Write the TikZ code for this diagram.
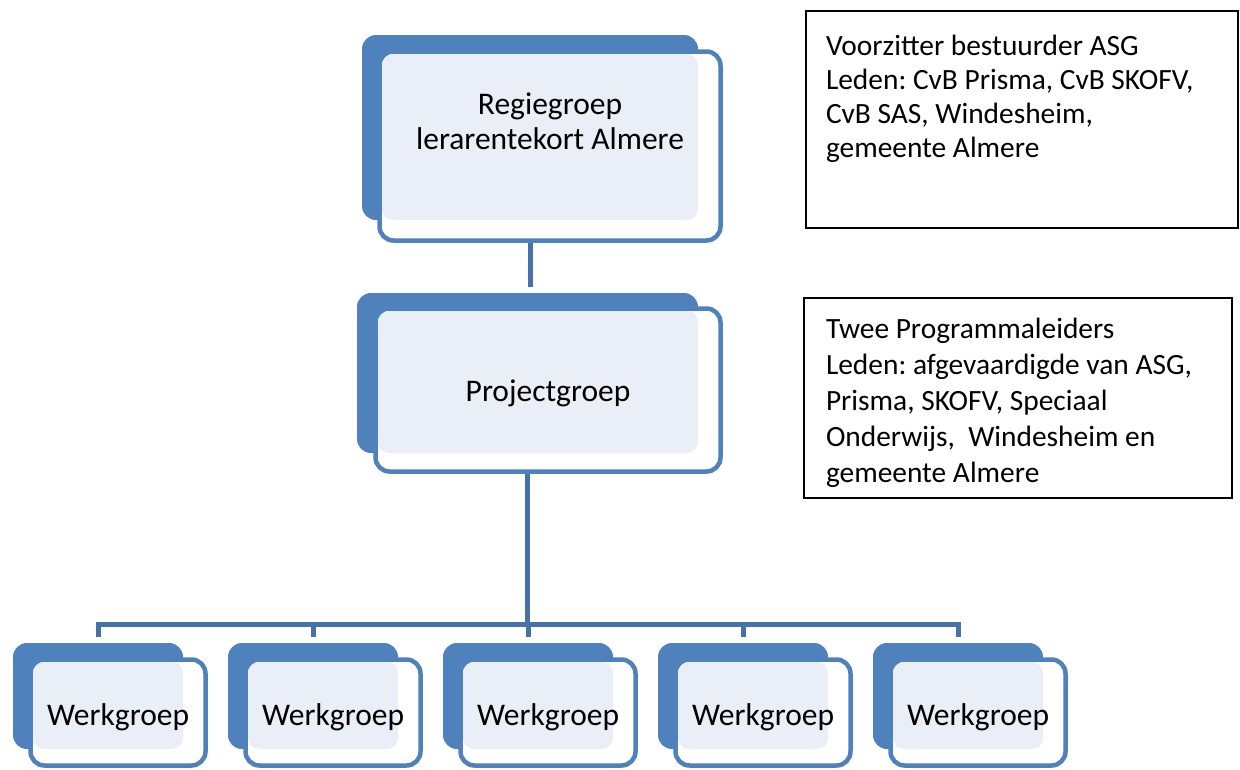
\documentclass[tikz,border=0pt]{standalone}
\usepackage{fontspec}
\setmainfont{Carlito}
\frenchspacing
\definecolor{dblue}{HTML}{4F81BD}
\definecolor{lblue}{HTML}{EAEFF7}
\definecolor{cblue}{HTML}{4672A8}
\begin{document}
\begin{tikzpicture}[x=1pt,y=-1pt,
  every node/.style={inner sep=0pt, outer sep=0pt},
  backbox/.style={fill=dblue, rounded corners=14pt, rectangle},
  frontbox/.style={draw=dblue, line width=4.5pt, fill=white, rounded corners=14pt, rectangle},
  lightbox/.style={fill=lblue, rounded corners=11pt, rectangle},
  conn/.style={draw=cblue, line width=5pt},
  lbl/.style={font=\fontsize{31.5}{35}\selectfont\frenchspacing, text=black},
  infotext/.style={text=black, align=left, anchor=base west},
  infobox/.style={draw=black, line width=1.5pt, rectangle}]
\useasboundingbox (0,0) rectangle (1240,769);
\fill[white] (0,0) rectangle (1240,769);

% back boxes (needed for connector anchors)
\node[backbox, minimum width=336pt, minimum height=185pt] (Rb) at (530,127.5) {};
\node[backbox, minimum width=341pt, minimum height=160pt] (Pb) at (527.5,373) {};
\foreach \k in {1,...,5}{
  \node[backbox, minimum width=170pt, minimum height=106pt] (W\k b) at ({98+215*(\k-1)},696) {};
}
\coordinate (bar) at (0,624);

% connectors
\draw[conn, shorten >=6pt] (Rb.south) -- (Rb.south |- Pb.north);
\draw[conn] (Pb.south) -- (Pb.south |- bar);
\draw[conn, shorten <=6pt, shorten >=6pt] (W1b.north) -- (W1b.north |- bar) -- (W5b.north |- bar) -- (W5b.north);
\foreach \k in {2,3,4}{
  \draw[conn, shorten >=6pt] (W\k b.north |- bar) -- (W\k b.north);
}

% Regiegroep
\node[frontbox, minimum width=341pt, minimum height=189pt] (Rf) at (550,146) {};
\node[lightbox, minimum width=316pt, minimum height=166pt] (Rl) at (540,137) {};
\node[lbl, align=center, anchor=base] (Rt) at (550,149) {Regiegroep\\lerarentekort Almere};

% Projectgroep
\node[frontbox, minimum width=345pt, minimum height=163pt] (Pf) at (548,390) {};
\node[lightbox, minimum width=320pt, minimum height=142pt] (Pl) at (538,382) {};
\node[lbl, anchor=base] (Pt) at (548,401) {Projectgroep};

% Werkgroepen
\foreach \k in {1,...,5}{
  \node[frontbox, minimum width=175pt, minimum height=106pt] (W\k f) at ({118+215*(\k-1)},712.5) {};
  \node[lightbox, minimum width=150pt, minimum height=87pt] (W\k l) at ({108+215*(\k-1)},705.5) {};
  \node[lbl, anchor=base] (W\k t) at ({118+215*(\k-1)},725) {Werkgroep};
}

% info boxes
\node[infobox, minimum width=432pt, minimum height=217pt] (Ia) at (1022,119.5) {};
\node[infotext, font=\fontsize{29.4}{34}\selectfont\frenchspacing] (Iat) at (826,157)
  {Voorzitter bestuurder ASG\\Leden: CvB Prisma, CvB SKOFV,\\CvB SAS, Windesheim,\\gemeente Almere};
\node[infobox, minimum width=428pt, minimum height=200pt] (Ib) at (1018,398) {};
\node[infotext, font=\fontsize{29.4}{36}\selectfont\frenchspacing] (Ibt) at (826,482)
  {Twee Programmaleiders\\Leden: afgevaardigde van ASG,\\Prisma, SKOFV, Speciaal\\Onderwijs,~ Windesheim en\\gemeente Almere};
\end{tikzpicture}
\end{document}
